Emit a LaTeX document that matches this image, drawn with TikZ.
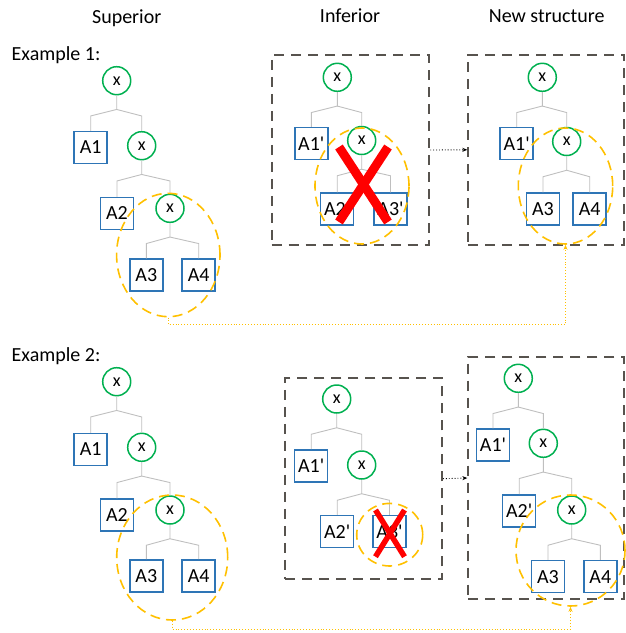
\documentclass[tikz,border=0pt]{standalone}
\usepackage{fontspec}
\newfontfamily\cfont{Carlito}
\usetikzlibrary{shapes.geometric,arrows.meta,calc}
\definecolor{cgreen}{HTML}{00B050}
\definecolor{cblue}{HTML}{2E75B6}
\definecolor{cgray}{HTML}{BFBFBF}
\definecolor{corange}{HTML}{FFC000}
\definecolor{cbox}{HTML}{57534E}
\definecolor{cred}{HTML}{FF0000}
\tikzset{
  opnode/.style={circle,draw=cgreen,line width=1.5pt,minimum size=28pt,inner sep=0pt,fill=white,font=\cfont\fontsize{18}{20}\selectfont},
  leaf/.style={rectangle,draw=cblue,line width=1.5pt,minimum width=33pt,minimum height=32pt,inner sep=0pt,fill=white,font=\cfont\fontsize{20}{22}\selectfont},
  treeline/.style={draw=cgray,line width=0.9pt},
  oell/.style={ellipse,draw=corange,line width=1.6pt,dash pattern=on 10pt off 6pt,inner sep=0pt},
  dbox/.style={rectangle,draw=cbox,line width=2pt,dash pattern=on 10pt off 7pt,inner sep=0pt},
  hdr/.style={font=\cfont\fontsize{20}{22}\selectfont,anchor=base,inner sep=0pt},
  exlbl/.style={font=\cfont\fontsize{20}{22}\selectfont,anchor=base west,inner sep=0pt},
  conn/.style={draw=corange,dotted,line width=0.9pt,-{Stealth[length=5pt,width=4pt]}},
  arr/.style={draw=black,dotted,line width=0.9pt,-{Stealth[length=5pt,width=4pt]}},
  redx/.style={draw=cred,line cap=butt}
}
\newcommand{\branch}[3]{%
  \path ($(#1.south)+(0,14)$) coordinate (#1j) ($(#1.south)+(0,20.5)$) coordinate (#1r);
  \draw[treeline] (#1.south) -- (#1j) -- (#2.north |- #1r) -- (#2.north);
  \draw[treeline] (#1j) -- (#3.north |- #1r) -- (#3.north);
}
\begin{document}
\begin{tikzpicture}[x=1pt,y=-1pt]
\useasboundingbox (0,0) rectangle (625,633);

% headers
\node[hdr] (hsup) at (126.7,23.3) {Superior};
\node[hdr] (hinf) at (350,22.7) {Inferior};
\node[hdr] (hnew) at (546.7,22.7) {New structure};
\node[exlbl] (ex1) at (11.5,60) {Example 1:};
\node[exlbl] (ex2) at (11.5,361.7) {Example 2:};

% dashed boxes
\node[dbox,minimum width=157.6pt,minimum height=190pt] (inf1) at (350.5,150) {};
\node[dbox,minimum width=156pt,minimum height=190.5pt] (new1) at (546.3,149.8) {};
\node[dbox,minimum width=157pt,minimum height=201.3pt] (inf2) at (363.5,478.7) {};
\node[dbox,minimum width=155.7pt,minimum height=242.6pt] (new2) at (546.2,478) {};

% ===== Example 1 superior
\node[opnode] (s1x1) at (116.7,80.7) {x};
\node[leaf] (s1a1) at (90.7,147.5) {A1};
\node[opnode] (s1x2) at (141.7,145.7) {x};
\node[leaf] (s1a2) at (117,213.5) {A2};
\node[opnode] (s1x3) at (170,208.3) {x};
\node[leaf] (s1a3) at (146.3,275) {A3};
\node[leaf] (s1a4) at (198.7,275) {A4};
\branch{s1x1}{s1a1}{s1x2}
\branch{s1x2}{s1a2}{s1x3}
\branch{s1x3}{s1a3}{s1a4}

% ===== Example 1 inferior
\node[opnode] (i1x1) at (337.3,77.3) {x};
\node[leaf] (i1a1) at (311.3,143.5) {A1'};
\node[opnode] (i1x2) at (361.7,140.5) {x};
\node[leaf] (i1a2) at (337.2,209) {A2'};
\node[leaf] (i1a3) at (390.5,209) {A3'};
\branch{i1x1}{i1a1}{i1x2}
\branch{i1x2}{i1a2}{i1a3}

% ===== Example 1 new
\node[opnode] (n1x1) at (542.3,77.3) {x};
\node[leaf] (n1a1) at (516.7,143.5) {A1'};
\node[opnode] (n1x2) at (566.7,141.5) {x};
\node[leaf] (n1a3) at (543,209) {A3};
\node[leaf] (n1a4) at (589.7,209) {A4};
\branch{n1x1}{n1a1}{n1x2}
\branch{n1x2}{n1a3}{n1a4}

% ===== Example 2 superior
\node[opnode] (s2x1) at (116.7,381.7) {x};
\node[leaf] (s2a1) at (90.7,449.5) {A1};
\node[opnode] (s2x2) at (141.7,447.3) {x};
\node[leaf] (s2a2) at (117,515) {A2};
\node[opnode] (s2x3) at (170,510) {x};
\node[leaf] (s2a3) at (146.3,575.8) {A3};
\node[leaf] (s2a4) at (198.7,575.8) {A4};
\branch{s2x1}{s2a1}{s2x2}
\branch{s2x2}{s2a2}{s2x3}
\branch{s2x3}{s2a3}{s2a4}

% ===== Example 2 inferior
\node[opnode] (i2x1) at (336.7,399) {x};
\node[leaf] (i2a1) at (311.2,465.8) {A1'};
\node[opnode] (i2x2) at (361.7,465) {x};
\node[leaf] (i2a2) at (337.2,531.5) {A2'};
\node[leaf] (i2a3) at (389.5,531.5) {A3'};
\branch{i2x1}{i2a1}{i2x2}
\branch{i2x2}{i2a2}{i2a3}

% ===== Example 2 new
\node[opnode] (n2x1) at (518.3,378.3) {x};
\node[leaf] (n2a1) at (493,445) {A1'};
\node[opnode] (n2x2) at (543.3,443.3) {x};
\node[leaf] (n2a2) at (519.2,510.8) {A2'};
\node[opnode] (n2x3) at (571.7,510) {x};
\node[leaf] (n2a3) at (548,576.7) {A3};
\node[leaf] (n2a4) at (600.3,576.7) {A4};
\branch{n2x1}{n2a1}{n2x2}
\branch{n2x2}{n2a2}{n2x3}
\branch{n2x3}{n2a3}{n2a4}

% orange ellipses
\node[oell,minimum width=103.4pt,minimum height=123.4pt] (s1e) at (168.3,255) {};
\node[oell,minimum width=94pt,minimum height=116pt] (i1e) at (362,186) {};
\node[oell,minimum width=94.4pt,minimum height=116pt] (n1e) at (565.5,186) {};
\node[oell,minimum width=111pt,minimum height=125pt] (s2e) at (172.2,557.5) {};
\node[oell,minimum width=66pt,minimum height=62.6pt] (i2e) at (389.7,534.7) {};
\node[oell,minimum width=109pt,minimum height=111pt] (n2e) at (570.5,550.5) {};

% red crosses
\draw[redx,line width=9pt] (339,147) -- (388,222);
\draw[redx,line width=9pt] (388,147) -- (339,222);
\draw[redx,line width=5.5pt] (375.5,510) -- (404.5,556.7);
\draw[redx,line width=5.5pt] (404.5,510) -- (375.5,556.7);

% connectors
\draw[arr] (inf1.east) -- (new1.west);
\draw[arr] (inf2.east) -- (new2.west);
\draw[conn] (s1e.south) -- ++(0,7.3) -| (n1e.south);
\draw[conn] (s2e.south) -- ++(0,8.3) -| (n2e.south);
\end{tikzpicture}
\end{document}
